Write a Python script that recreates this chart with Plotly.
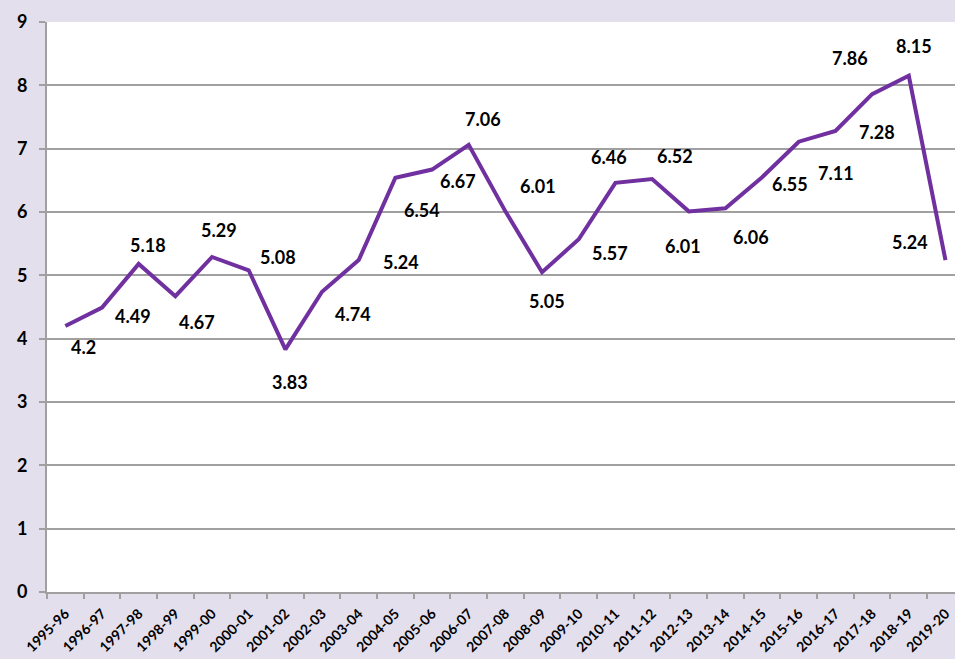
import plotly.graph_objects as go

years = ["1995-96", "1996-97", "1997-98", "1998-99", "1999-00", "2000-01", "2001-02",
         "2002-03", "2003-04", "2004-05", "2005-06", "2006-07", "2007-08", "2008-09",
         "2009-10", "2010-11", "2011-12", "2012-13", "2013-14", "2014-15", "2015-16",
         "2016-17", "2017-18", "2018-19", "2019-20"]
values = [4.2, 4.49, 5.18, 4.67, 5.29, 5.08, 3.83, 4.74, 5.24, 6.54, 6.67, 7.06, 6.01,
          5.05, 5.57, 6.46, 6.52, 6.01, 6.06, 6.55, 7.11, 7.28, 7.86, 8.15, 5.24]
y_ticks = [0, 1, 2, 3, 4, 5, 6, 7, 8, 9]

# label offsets in pixels (dx right, dy down) – styling only
label_offsets = [(18, 21), (31, 8), (9, -19), (22, 26), (7, -27), (29, -13), (5, 33),
                 (31, 22), (42, 2), (27, 32), (26, 11), (14, -26), (33, -25), (5, 29),
                 (31, 14), (-6, -26), (23, -23), (-6, 35), (26, 29), (28, 7), (37, 31),
                 (42, 1), (-22, -36), (5, -30), (-35, -18)]

FONT = "Lato"
PURPLE = "#7030A0"
GRID = "#A0A0A0"
BG = "#E4DFEC"

fig = go.Figure()
fig.add_trace(go.Scatter(x=years, y=values, mode="lines",
                         line=dict(color=PURPLE, width=4), hoverinfo="x+y",
                         showlegend=False))

for yr, v, (dx, dy) in zip(years, values, label_offsets):
    fig.add_annotation(x=yr, y=v, xref="x", yref="y", text=f"{v:g}", showarrow=False,
                       xshift=dx, yshift=-dy,
                       font=dict(family=FONT, size=18, color="#000000", weight="bold"))

fig.update_layout(
    width=955, height=659,
    paper_bgcolor=BG, plot_bgcolor="#FFFFFF",
    margin=dict(l=47, r=0, t=22, b=67),
    showlegend=False,
)
fig.update_xaxes(
    type="category", categoryorder="array", categoryarray=years,
    range=[-0.5, 24.26], tickangle=-45, tickson="boundaries",
    ticks="outside", ticklen=5, tickwidth=2, tickcolor=GRID,
    showline=True, linecolor=GRID, linewidth=2, showgrid=False,
    ticklabelstandoff=6, automargin=False,
    tickfont=dict(family=FONT, size=14, color="#000000", weight="bold"),
)
fig.update_yaxes(
    range=[0, 9], tickvals=y_ticks, ticks="outside", ticklen=6, tickwidth=2,
    tickcolor=GRID, showline=True, linecolor=GRID, linewidth=2,
    showgrid=True, gridcolor=GRID, gridwidth=2, zeroline=False,
    ticklabelstandoff=8, automargin=False,
    tickfont=dict(family=FONT, size=18, color="#000000", weight="bold"),
)

fig.write_html("out.html")
